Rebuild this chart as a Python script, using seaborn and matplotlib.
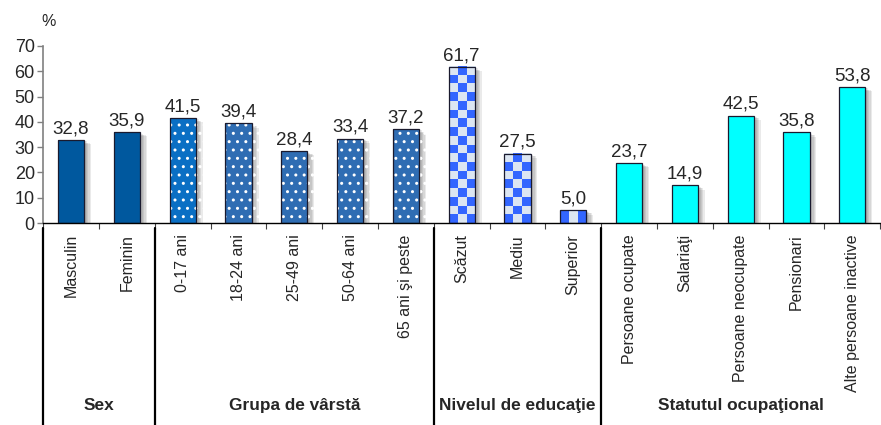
import numpy as np
import pandas as pd
import matplotlib
matplotlib.use("Agg")
import matplotlib.pyplot as plt
import matplotlib.patheffects as pe
import matplotlib.transforms as mtransforms
import seaborn as sns

# data
labels = ["Masculin", "Feminin",
          "0-17 ani", "18-24 ani", "25-49 ani", "50-64 ani", "65 ani şi peste",
          "Scăzut", "Mediu", "Superior",
          "Persoane ocupate", "Salariaţi", "Persoane neocupate", "Pensionari",
          "Alte persoane inactive"]
values = [32.8, 35.9,
          41.5, 39.4, 28.4, 33.4, 37.2,
          61.7, 27.5, 5.0,
          23.7, 14.9, 42.5, 35.8, 53.8]
groups = ["Sex", "Grupa de vârstă", "Nivelul de educaţie", "Statutul ocupaţional"]
group_sizes = [2, 5, 3, 5]

group_colors = ["#00589E", "#2F6DB3", "#3366FF", "#00FFFF"]
group_styles = ["solid", "dots", "checker", "solid"]

df = pd.DataFrame({"cat": labels, "val": values})
gidx = np.repeat(np.arange(len(groups)), group_sizes)
colors = [group_colors[g] for g in gidx]
colors[2] = "#0A6FC4"   # first age bar is a bit brighter

sns.set_theme(style="white")
plt.rcParams["font.family"] = ["Liberation Sans", "DejaVu Sans"]

fig, ax = plt.subplots(figsize=(8.81, 4.25), dpi=100)
fig.subplots_adjust(left=0.049, right=0.999, top=0.892, bottom=0.475)

sns.barplot(data=df, x="cat", y="val", hue="cat", palette=colors,
            legend=False, width=0.47, ax=ax, saturation=1)

# soft drop shadow built from a few faint offset copies
shadow = [pe.SimplePatchShadow(offset=(dx, -dy), shadow_rgbFace="#333333", alpha=0.1)
          for dx, dy in [(1, 1), (2, 1), (3, 2), (4, 2), (5, 3)]] + [pe.Normal()]
sq = 3.4  # checker square size in data units
for i, p in enumerate(ax.patches):
    style = group_styles[gidx[i]]
    p.set_path_effects(shadow)
    p.set_linewidth(0)
    if style == "dots":
        p.set_hatch("..")
        p.set_edgecolor("white")
    elif style == "checker":
        x0, w, h = p.get_x(), p.get_width(), p.get_height()
        nrows = max(1, int(round(h / sq)))
        board = (np.add.outer(np.arange(nrows), np.arange(3)) % 2)
        cmap = matplotlib.colors.ListedColormap(["#3366FF", "#DCE6F2"])
        ax.imshow(board, cmap=cmap, extent=(x0, x0 + w, 0, h), origin="lower",
                  aspect="auto", interpolation="nearest", zorder=2.5)

# outline pass
ax.bar(np.arange(len(values)), values, width=0.47, facecolor="none",
       edgecolor="#1A1A2E", linewidth=0.9, zorder=3)

ax.bar_label(ax.containers[-1], labels=[f"{v:.1f}".replace(".", ",") for v in values],
             padding=2, fontsize=13.5)

ax.set_xlim(-0.5, len(values) - 0.5)
ax.set_ylim(0, 70)
ax.set_yticks(range(0, 71, 10))
ax.set_xlabel("")
ax.set_ylabel("")
ax.set_xticks(range(len(values)))
ax.set_xticklabels(labels, rotation=90, va="top", fontsize=11.5)
ax.set_xticks(np.arange(-0.5, len(values), 1), minor=True)
ax.tick_params(axis="x", which="major", length=0, pad=8)
ax.tick_params(axis="x", which="minor", length=4, color="#404040", width=0.8,
               direction="out", bottom=True)
ax.tick_params(axis="y", length=4, color="#808080", width=1, direction="out",
               left=True, labelsize=13, pad=2)

for s in ["top", "right"]:
    ax.spines[s].set_visible(False)
ax.spines["left"].set_color("#808080")
ax.spines["left"].set_linewidth(1.2)
ax.spines["bottom"].set_color("black")
ax.spines["bottom"].set_linewidth(1)

fig.text(0.055, 0.95, "%", fontsize=11.5, ha="center", va="center")

# group separators and bold group names
trans = mtransforms.blended_transform_factory(ax.transData, ax.transAxes)
bounds = np.concatenate([[0], np.cumsum(group_sizes)]) - 0.5
for b in bounds[:-1]:
    ax.plot([b, b], [-0.03, -1.2], color="black", lw=1.6, transform=trans,
            clip_on=False)
for name, lo, hi in zip(groups, bounds[:-1], bounds[1:]):
    ax.text((lo + hi) / 2, -1.03, name, transform=trans, ha="center",
            va="center", fontsize=12.4, fontweight="bold")

fig.savefig("out.png", dpi=100)
